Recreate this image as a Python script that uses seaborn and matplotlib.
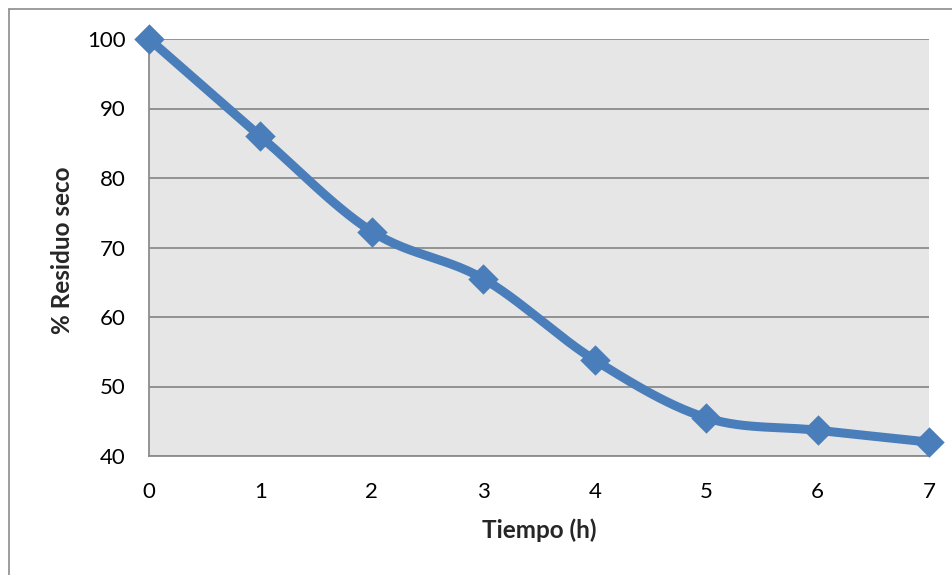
import numpy as np
import pandas as pd
import matplotlib
matplotlib.use("Agg")
import matplotlib.pyplot as plt
from matplotlib.lines import Line2D
import seaborn as sns

# Drying kinetics: dry residue percentage over time
tiempo_h = [0, 1, 2, 3, 4, 5, 6, 7]
residuo_seco = [100.0, 86.0, 72.3, 65.5, 53.8, 45.5, 43.7, 42.0]
y_ticks = [40, 50, 60, 70, 80, 90, 100]
x_ticks = [0, 1, 2, 3, 4, 5, 6, 7]

LINE_COLOR = "#4A7EBB"
PLOT_BG = "#E6E6E6"
GRID_COLOR = "#8C8C8C"

sns.set_theme(style="white")
plt.rcParams["font.family"] = ["Lato", "DejaVu Sans"]


def smooth_curve(x, y, n=30):
    """Bezier smoothing through points (Catmull-Rom style control points)."""
    x = np.asarray(x, float)
    y = np.asarray(y, float)
    px = np.concatenate([[x[0]], x, [x[-1]]])
    py = np.concatenate([[y[0]], y, [y[-1]]])
    xs, ys = [], []
    t = np.linspace(0, 1, n)
    for i in range(1, len(px) - 2):
        p0 = np.array([px[i], py[i]])
        p3 = np.array([px[i + 1], py[i + 1]])
        p1 = p0 + (np.array([px[i + 1], py[i + 1]]) - np.array([px[i - 1], py[i - 1]])) / 6
        p2 = p3 - (np.array([px[i + 2], py[i + 2]]) - np.array([px[i], py[i]])) / 6
        b = ((1 - t) ** 3)[:, None] * p0 + (3 * (1 - t) ** 2 * t)[:, None] * p1 \
            + (3 * (1 - t) * t ** 2)[:, None] * p2 + (t ** 3)[:, None] * p3
        xs.extend(b[:, 0])
        ys.extend(b[:, 1])
    return np.array(xs), np.array(ys)


sx, sy = smooth_curve(tiempo_h, residuo_seco)
curve = pd.DataFrame({"t": sx, "r": sy})
pts = pd.DataFrame({"t": tiempo_h, "r": residuo_seco})

fig = plt.figure(figsize=(9.53, 5.75), dpi=100)
ax = fig.add_axes([149 / 953, 1 - 456 / 575, (929 - 149) / 953, (456 - 39) / 575])
ax.set_facecolor(PLOT_BG)

sns.lineplot(data=curve, x="t", y="r", ax=ax, color=LINE_COLOR, linewidth=6.5,
             sort=False, estimator=None, zorder=3, clip_on=False)
sns.scatterplot(data=pts, x="t", y="r", ax=ax, color=LINE_COLOR, marker="D",
                s=240, linewidth=0, zorder=4, clip_on=False)

ax.set_xlim(0, 7)
ax.set_ylim(40, 100)
ax.set_xticks(x_ticks)
ax.set_yticks(y_ticks)
ax.tick_params(axis="both", labelsize=16, colors="black", length=0)
ax.tick_params(axis="x", pad=19)
ax.tick_params(axis="y", pad=17)
ax.yaxis.grid(True, color=GRID_COLOR, linewidth=1.3)
ax.xaxis.grid(False)
ax.set_axisbelow(True)

for side in ["top", "right"]:
    ax.spines[side].set_visible(False)
for side in ["left", "bottom"]:
    ax.spines[side].set_color(GRID_COLOR)
    ax.spines[side].set_linewidth(1.3)

ax.set_xlabel("Tiempo (h)", fontsize=17.5, fontweight="bold", va="center")
ax.set_ylabel("% Residuo seco", fontsize=17.5, fontweight="bold", va="center")
ax.xaxis.set_label_coords(0.5006, -0.1775)
ax.yaxis.set_label_coords(-0.1115, 0.494)

# Chart area frame
fig.add_artist(Line2D([9 / 953, 9 / 953], [0, 1 - 9 / 575], color="#8C8C8C", linewidth=1.2,
                      transform=fig.transFigure))
fig.add_artist(Line2D([9 / 953, 1], [1 - 9 / 575, 1 - 9 / 575], color="#8C8C8C", linewidth=1.2,
                      transform=fig.transFigure))

fig.savefig("out.png", dpi=100, facecolor="white")
